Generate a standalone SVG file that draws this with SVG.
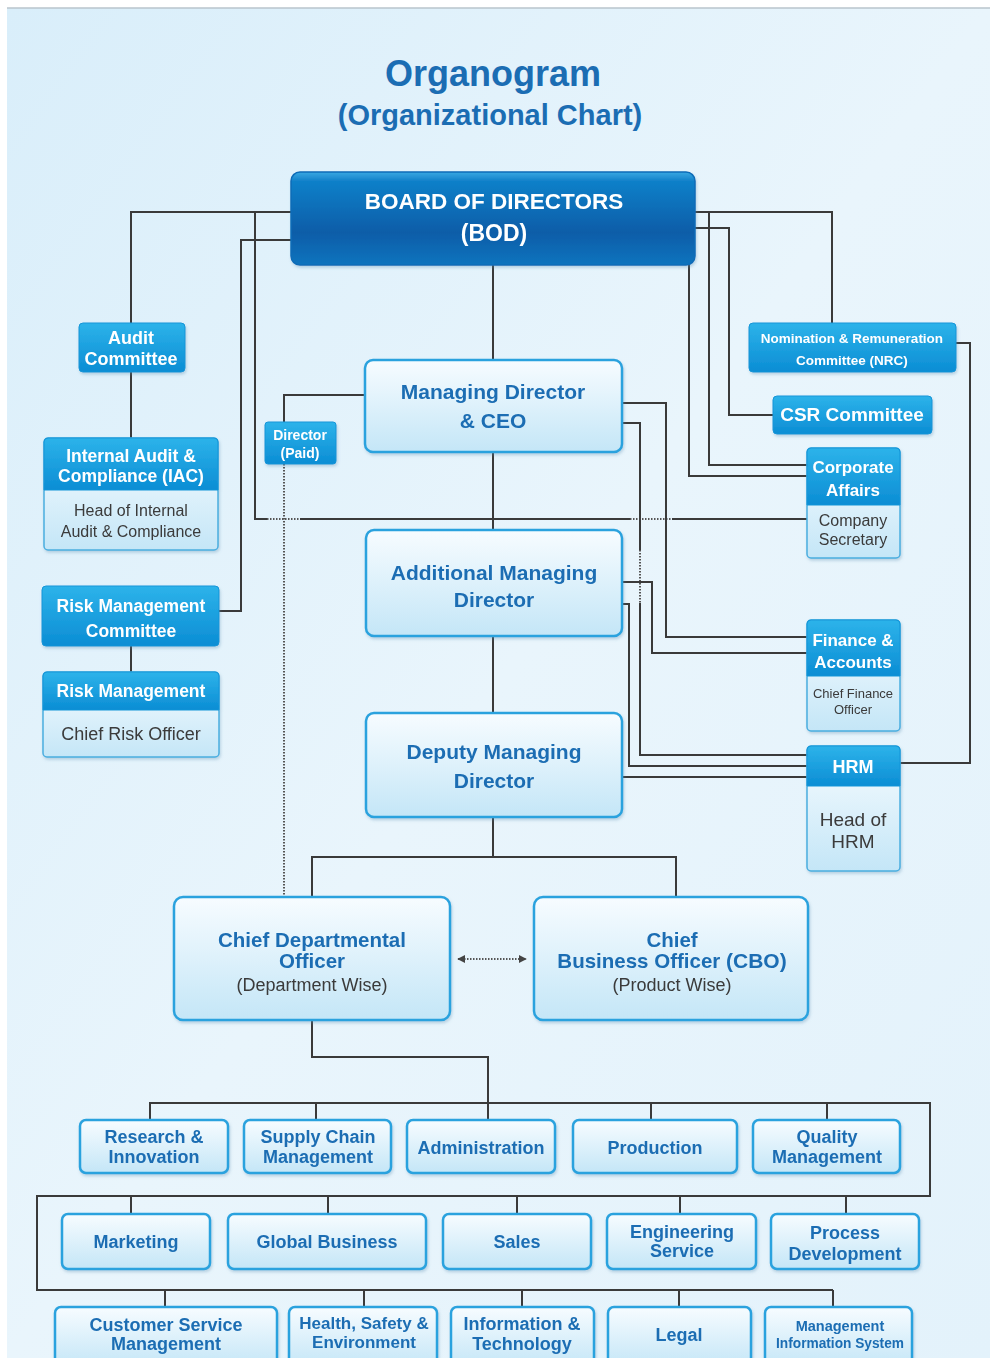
<svg xmlns="http://www.w3.org/2000/svg" width="990" height="1358" viewBox="0 0 990 1358">
<defs>
<linearGradient id="bg" x1="0" y1="0" x2="1" y2="1">
<stop offset="0" stop-color="#d9eefa"/><stop offset="0.5" stop-color="#e9f5fc"/><stop offset="1" stop-color="#e3f2fb"/>
</linearGradient>
<linearGradient id="gBlue" x1="0" y1="0" x2="0" y2="1">
<stop offset="0" stop-color="#2db3ea"/><stop offset="1" stop-color="#0b8dd4"/>
</linearGradient>
<linearGradient id="gBod" x1="0" y1="0" x2="0" y2="1">
<stop offset="0" stop-color="#3aa8e2"/><stop offset="0.1" stop-color="#0f80c9"/><stop offset="0.65" stop-color="#0a5da8"/><stop offset="1" stop-color="#0d74be"/>
</linearGradient>
<linearGradient id="gLight" x1="0" y1="0" x2="0" y2="1">
<stop offset="0" stop-color="#f7fcff"/><stop offset="1" stop-color="#c4e6f7"/>
</linearGradient>
<filter id="sh" x="-10%" y="-10%" width="120%" height="130%">
<feDropShadow dx="1" dy="2" stdDeviation="1.5" flood-color="#5a8fb0" flood-opacity="0.35"/>
</filter>
<marker id="ah" viewBox="0 0 10 10" refX="9" refY="5" markerWidth="4" markerHeight="4" orient="auto-start-reverse">
<path d="M0,0 L10,5 L0,10 z" fill="#444"/>
</marker>
<style>
.conn{stroke:#3a3a3a;stroke-width:2;fill:none}
.dot{stroke:#555;stroke-width:2;fill:none;stroke-dasharray:1.5 1.5}
.blue{fill:url(#gBlue);stroke:#1495d8;stroke-width:1}
.light{fill:url(#gLight);stroke:#2aa2de;stroke-width:2.5}
.sub{fill:url(#gLight);stroke:#4aaee0;stroke-width:1.5}
text{font-family:"Liberation Sans",Arial,sans-serif;text-anchor:middle}
.wt{fill:#ffffff;font-weight:bold}
.bt{fill:#1b6db3;font-weight:bold}
.gt{fill:#3a3a3a}
</style>
</defs>

<rect x="0" y="0" width="990" height="1358" fill="#ffffff"/>
<rect x="7" y="8" width="983" height="1350" fill="url(#bg)"/>
<line x1="7" y1="8" x2="990" y2="8" stroke="#b8c4cc" stroke-width="1.5"/>

<g id="title">
<text x="493" y="86" class="bt" font-size="36" fill="#1f70b4">Organogram</text>
<text x="490" y="125" class="bt" font-size="29">(Organizational Chart)</text>
</g>

<g id="connectors">
<polyline class="conn" points="291,212 131,212 131,323"/>
<polyline class="conn" points="255,212 255,519 267,519"/>
<polyline class="dot" points="267,519 300,519"/>
<polyline class="conn" points="300,519 630,519"/>
<polyline class="dot" points="630,519 672,519"/>
<polyline class="conn" points="672,519 807,519"/>
<polyline class="conn" points="291,240 241,240 241,611 219,611"/>
<line class="conn" x1="131" y1="372" x2="131" y2="438"/>
<line class="conn" x1="131" y1="646" x2="131" y2="672"/>
<polyline class="conn" points="365,395 284,395 284,422"/>
<line class="dot" x1="284" y1="464" x2="284" y2="897"/>
<line class="conn" x1="493" y1="265" x2="493" y2="360"/>
<line class="conn" x1="493" y1="452" x2="493" y2="530"/>
<line class="conn" x1="493" y1="636" x2="493" y2="713"/>
<polyline class="conn" points="493,817 493,857"/>
<polyline class="conn" points="312,897 312,857 676,857 676,897"/>
<line class="dot" x1="458" y1="959" x2="526" y2="959" marker-start="url(#ah)" marker-end="url(#ah)"/>
<polyline class="conn" points="695,212 832,212 832,323"/>
<polyline class="conn" points="695,228 729,228 729,415 773,415"/>
<polyline class="conn" points="709,212 709,465 807,465"/>
<polyline class="conn" points="689,265 689,476 807,476"/>
<polyline class="conn" points="956,343 970,343 970,763 900,763"/>
<polyline class="conn" points="622,403 666,403 666,637 807,637"/>
<polyline class="conn" points="622,423 640,423 640,550"/>
<line class="dot" x1="640" y1="550" x2="640" y2="603"/>
<polyline class="conn" points="640,603 640,755 807,755"/>
<polyline class="conn" points="622,582 652,582 652,653 807,653"/>
<polyline class="conn" points="622,604 629,604 629,766 807,766"/>
<line class="conn" x1="622" y1="777" x2="807" y2="777"/>
<polyline class="conn" points="312,1020 312,1057 488,1057 488,1120"/>
<polyline class="conn" points="150,1120 150,1103 930,1103 930,1196 37,1196 37,1290 833,1290"/>
<line class="conn" x1="316" y1="1103" x2="316" y2="1120"/>
<line class="conn" x1="651" y1="1103" x2="651" y2="1120"/>
<line class="conn" x1="827" y1="1103" x2="827" y2="1120"/>
<line class="conn" x1="131" y1="1196" x2="131" y2="1214"/>
<line class="conn" x1="328" y1="1196" x2="328" y2="1214"/>
<line class="conn" x1="517" y1="1196" x2="517" y2="1214"/>
<line class="conn" x1="680" y1="1196" x2="680" y2="1214"/>
<line class="conn" x1="846" y1="1196" x2="846" y2="1214"/>
<line class="conn" x1="165" y1="1290" x2="165" y2="1307"/>
<line class="conn" x1="364" y1="1290" x2="364" y2="1307"/>
<line class="conn" x1="522" y1="1290" x2="522" y2="1307"/>
<line class="conn" x1="679" y1="1290" x2="679" y2="1307"/>
<line class="conn" x1="833" y1="1290" x2="833" y2="1307"/>
</g>

<g id="bod" filter="url(#sh)">
<rect x="291" y="172" width="404" height="93" rx="9" fill="url(#gBod)" stroke="#0b6cb8" stroke-width="1.5"/>
<text x="494" y="209" class="wt" font-size="22.5">BOARD OF DIRECTORS</text>
<text x="494" y="241" class="wt" font-size="23">(BOD)</text>
</g>

<g id="audit-committee" filter="url(#sh)">
<rect x="79" y="323" width="106" height="49" rx="4" class="blue"/>
<text x="131" y="344" class="wt" font-size="18">Audit</text>
<text x="131" y="365" class="wt" font-size="18">Committee</text>
</g>

<g id="iac" filter="url(#sh)">
<rect x="44" y="438" width="174" height="112" rx="4" class="sub"/>
<path d="M44,490 V442 a4,4 0 0 1 4,-4 H214 a4,4 0 0 1 4,4 V490 Z" class="blue"/>
<text x="131" y="462" class="wt" font-size="17.5">Internal Audit &amp;</text>
<text x="131" y="482" class="wt" font-size="17.5">Compliance (IAC)</text>
<text x="131" y="516" class="gt" font-size="16">Head of Internal</text>
<text x="131" y="537" class="gt" font-size="16">Audit &amp; Compliance</text>
</g>

<g id="risk-committee" filter="url(#sh)">
<rect x="42" y="586" width="177" height="60" rx="4" class="blue"/>
<text x="131" y="612" class="wt" font-size="17.5">Risk Management</text>
<text x="131" y="637" class="wt" font-size="17.5">Committee</text>
</g>

<g id="risk-management" filter="url(#sh)">
<rect x="43" y="672" width="176" height="85" rx="4" class="sub"/>
<path d="M43,710 V676 a4,4 0 0 1 4,-4 H215 a4,4 0 0 1 4,4 V710 Z" class="blue"/>
<text x="131" y="697" class="wt" font-size="17.5">Risk Management</text>
<text x="131" y="740" class="gt" font-size="18">Chief Risk Officer</text>
</g>

<g id="director-paid" filter="url(#sh)">
<rect x="265" y="422" width="71" height="42" rx="3" class="blue"/>
<text x="300" y="440" class="wt" font-size="14">Director</text>
<text x="300" y="458" class="wt" font-size="14">(Paid)</text>
</g>

<g id="md-ceo" filter="url(#sh)">
<rect x="365" y="360" width="257" height="92" rx="8" class="light"/>
<text x="493" y="399" class="bt" font-size="21">Managing Director</text>
<text x="493" y="428" class="bt" font-size="21">&amp; CEO</text>
</g>

<g id="amd" filter="url(#sh)">
<rect x="366" y="530" width="256" height="106" rx="8" class="light"/>
<text x="494" y="580" class="bt" font-size="21">Additional Managing</text>
<text x="494" y="607" class="bt" font-size="21">Director</text>
</g>

<g id="dmd" filter="url(#sh)">
<rect x="366" y="713" width="256" height="104" rx="8" class="light"/>
<text x="494" y="759" class="bt" font-size="21">Deputy Managing</text>
<text x="494" y="788" class="bt" font-size="21">Director</text>
</g>

<g id="cdo" filter="url(#sh)">
<rect x="174" y="897" width="276" height="123" rx="9" class="light"/>
<text x="312" y="947" class="bt" font-size="20.5">Chief Departmental</text>
<text x="312" y="968" class="bt" font-size="20.5">Officer</text>
<text x="312" y="991" class="gt" font-size="18">(Department Wise)</text>
</g>

<g id="cbo" filter="url(#sh)">
<rect x="534" y="897" width="274" height="123" rx="9" class="light"/>
<text x="672" y="947" class="bt" font-size="20.5">Chief</text>
<text x="672" y="968" class="bt" font-size="20.5">Business Officer <tspan font-size="21">(CBO)</tspan></text>
<text x="672" y="991" class="gt" font-size="18">(Product Wise)</text>
</g>

<g id="nrc" filter="url(#sh)">
<rect x="749" y="323" width="207" height="49" rx="4" class="blue"/>
<text x="852" y="343" class="wt" font-size="13.5">Nomination &amp; Remuneration</text>
<text x="852" y="365" class="wt" font-size="13.5">Committee (NRC)</text>
</g>

<g id="csr" filter="url(#sh)">
<rect x="773" y="396" width="159" height="38" rx="4" class="blue"/>
<text x="852" y="421" class="wt" font-size="19">CSR Committee</text>
</g>

<g id="corporate-affairs" filter="url(#sh)">
<rect x="807" y="448" width="93" height="110" rx="4" class="sub"/>
<path d="M807,505 V452 a4,4 0 0 1 4,-4 H896 a4,4 0 0 1 4,4 V505 Z" class="blue"/>
<text x="853" y="473" class="wt" font-size="17">Corporate</text>
<text x="853" y="496" class="wt" font-size="17">Affairs</text>
<text x="853" y="526" class="gt" font-size="16">Company</text>
<text x="853" y="545" class="gt" font-size="16">Secretary</text>
</g>

<g id="finance" filter="url(#sh)">
<rect x="807" y="620" width="93" height="111" rx="4" class="sub"/>
<path d="M807,676 V624 a4,4 0 0 1 4,-4 H896 a4,4 0 0 1 4,4 V676 Z" class="blue"/>
<text x="853" y="646" class="wt" font-size="17">Finance &amp;</text>
<text x="853" y="668" class="wt" font-size="17">Accounts</text>
<text x="853" y="698" class="gt" font-size="13">Chief Finance</text>
<text x="853" y="714" class="gt" font-size="13">Officer</text>
</g>

<g id="hrm" filter="url(#sh)">
<rect x="807" y="746" width="93" height="125" rx="4" class="sub"/>
<path d="M807,786 V750 a4,4 0 0 1 4,-4 H896 a4,4 0 0 1 4,4 V786 Z" class="blue"/>
<text x="853" y="773" class="wt" font-size="18">HRM</text>
<text x="853" y="826" class="gt" font-size="19">Head of</text>
<text x="853" y="848" class="gt" font-size="19">HRM</text>
</g>

<g id="research" filter="url(#sh)"><rect x="80" y="1120" width="148" height="53" rx="6" class="light"/>
<text x="154" y="1143" class="bt" font-size="18">Research &amp;</text><text x="154" y="1163" class="bt" font-size="18">Innovation</text></g>
<g id="supply-chain" filter="url(#sh)"><rect x="244" y="1120" width="147" height="53" rx="6" class="light"/>
<text x="318" y="1143" class="bt" font-size="18">Supply Chain</text><text x="318" y="1163" class="bt" font-size="18">Management</text></g>
<g id="administration" filter="url(#sh)"><rect x="407" y="1120" width="148" height="53" rx="6" class="light"/>
<text x="481" y="1154" class="bt" font-size="18">Administration</text></g>
<g id="production" filter="url(#sh)"><rect x="573" y="1120" width="164" height="53" rx="6" class="light"/>
<text x="655" y="1154" class="bt" font-size="18">Production</text></g>
<g id="quality" filter="url(#sh)"><rect x="753" y="1120" width="147" height="53" rx="6" class="light"/>
<text x="827" y="1143" class="bt" font-size="18">Quality</text><text x="827" y="1163" class="bt" font-size="18">Management</text></g>

<g id="marketing" filter="url(#sh)"><rect x="62" y="1214" width="148" height="55" rx="6" class="light"/>
<text x="136" y="1248" class="bt" font-size="18">Marketing</text></g>
<g id="global-business" filter="url(#sh)"><rect x="228" y="1214" width="198" height="55" rx="6" class="light"/>
<text x="327" y="1248" class="bt" font-size="18">Global Business</text></g>
<g id="sales" filter="url(#sh)"><rect x="443" y="1214" width="148" height="55" rx="6" class="light"/>
<text x="517" y="1248" class="bt" font-size="18">Sales</text></g>
<g id="engineering" filter="url(#sh)"><rect x="607" y="1214" width="149" height="55" rx="6" class="light"/>
<text x="682" y="1238" class="bt" font-size="18">Engineering</text><text x="682" y="1257" class="bt" font-size="18">Service</text></g>
<g id="process" filter="url(#sh)"><rect x="771" y="1214" width="148" height="55" rx="6" class="light"/>
<text x="845" y="1239" class="bt" font-size="18">Process</text><text x="845" y="1260" class="bt" font-size="18">Development</text></g>

<g id="customer-service" filter="url(#sh)"><rect x="55" y="1307" width="222" height="60" rx="6" class="light"/>
<text x="166" y="1331" class="bt" font-size="18">Customer Service</text><text x="166" y="1350" class="bt" font-size="18">Management</text></g>
<g id="hse" filter="url(#sh)"><rect x="289" y="1307" width="148" height="60" rx="6" class="light"/>
<text x="364" y="1329" class="bt" font-size="17">Health, Safety &amp;</text><text x="364" y="1348" class="bt" font-size="17">Environment</text></g>
<g id="ict" filter="url(#sh)"><rect x="451" y="1307" width="143" height="60" rx="6" class="light"/>
<text x="522" y="1330" class="bt" font-size="18">Information &amp;</text><text x="522" y="1350" class="bt" font-size="18">Technology</text></g>
<g id="legal" filter="url(#sh)"><rect x="608" y="1307" width="143" height="60" rx="6" class="light"/>
<text x="679" y="1341" class="bt" font-size="18">Legal</text></g>
<g id="mis" filter="url(#sh)"><rect x="765" y="1307" width="147" height="60" rx="6" class="light"/>
<text x="840" y="1331" class="bt" font-size="14.5">Management</text><text x="840" y="1348" class="bt" font-size="14.5" textLength="128" lengthAdjust="spacingAndGlyphs">Information System</text></g>
</svg>
